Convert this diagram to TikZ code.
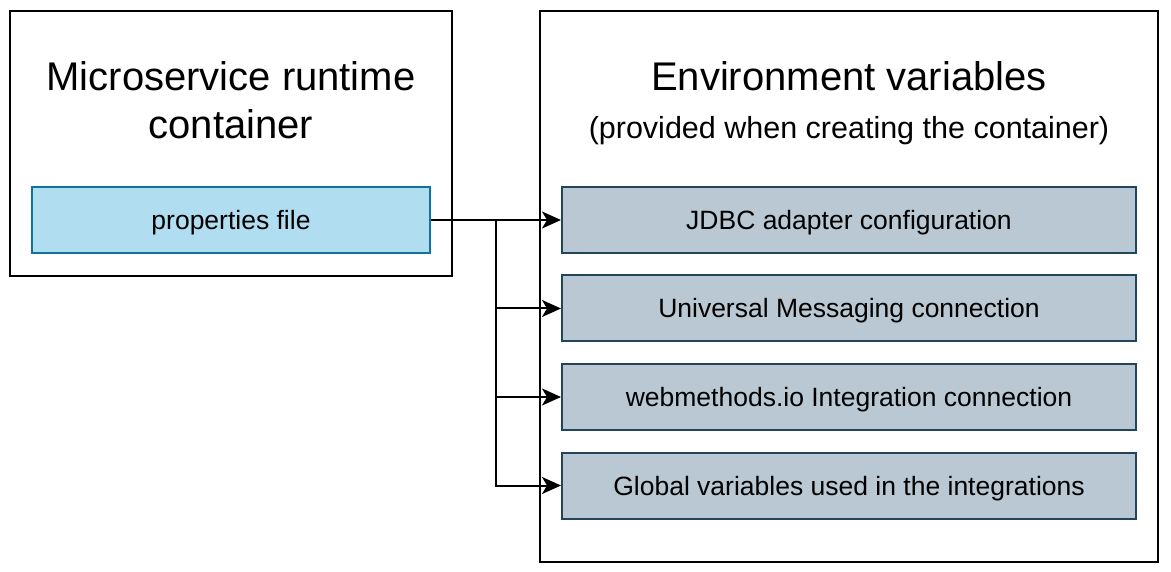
\documentclass[tikz,border=0pt]{standalone}
\usepackage{fontspec}
\setmainfont{Liberation Sans}
\usetikzlibrary{arrows.meta}
\definecolor{bluefill}{HTML}{B1DDF0}
\definecolor{bluestroke}{HTML}{10739E}
\definecolor{grayfill}{HTML}{BAC8D3}
\definecolor{graystroke}{HTML}{23445D}
\begin{document}
\begin{tikzpicture}[x=1pt,y=-1pt,
  container/.style={draw=black,line width=2.2pt,fill=white},
  boxtext/.style={line width=2pt,minimum height=66pt,inner sep=0pt,text height=24.5pt,text depth=5.5pt,font=\fontsize{26.5}{30}\selectfont},
  propbox/.style={boxtext,draw=bluestroke,fill=bluefill,minimum width=398pt},
  envbox/.style={boxtext,draw=graystroke,fill=grayfill,minimum width=574pt},
  titletext/.style={font=\fontsize{40}{48}\selectfont,align=center,inner sep=0pt},
  subtext/.style={font=\fontsize{30.5}{35}\selectfont,inner sep=0pt},
  arr/.style={draw=black,line width=2pt,-{Stealth[length=19pt,width=17pt,inset=5pt]}}
]
\useasboundingbox (0,0) rectangle (1171,572);
\fill[white] (0,0) rectangle (1171,572);
\draw[container] (10,11) rectangle (452,276);
\draw[container] (540,11) rectangle (1158,562);
\node[titletext] (lt) at (231,100) {Microservice runtime\\container};
\node[titletext] (rt) at (849,76) {Environment variables};
\node[subtext] (rs) at (849,131) {(provided when creating the container)};
\node[propbox] (p) at (231,220) {properties file};
\node[envbox] (b1) at (849,220) {JDBC adapter configuration};
\node[envbox] (b2) at (849,308.5) {Universal Messaging connection};
\node[envbox] (b3) at (849,397) {webmethods.io Integration connection};
\node[envbox] (b4) at (849,485.5) {Global variables used in the integrations};
\coordinate (j) at (496,220);
\draw[arr] (p.east) -- (b1.west);
\draw[arr] (j) |- (b2.west);
\draw[arr] (j) |- (b3.west);
\draw[arr] (j) |- (b4.west);
\end{tikzpicture}
\end{document}
